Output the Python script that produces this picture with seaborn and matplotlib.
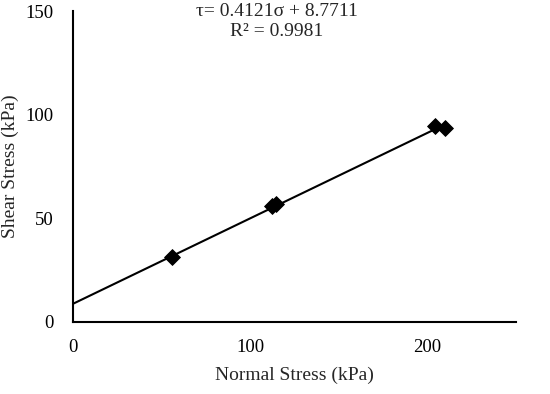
import numpy as np
import pandas as pd
import seaborn as sns
import matplotlib.pyplot as plt

normal_stress = [56, 112.5, 114.5, 204.5, 210]
shear_stress = [31.3, 55.8, 56.9, 94.3, 93.4]

# trendline as given in the chart
slope = 0.4121
intercept = 8.7711
r_squared = 0.9981

x_ticks = [0, 50, 100, 150, 200, 250]
x_tick_labels = ['0', '', '100', '', '200', '']
y_ticks = [0, 25, 50, 75, 100, 125, 150]
y_tick_labels = ['0', '', '50', '', '100', '', '150']

df = pd.DataFrame({'sigma': normal_stress, 'tau': shear_stress})
fit_x = np.array([0, max(normal_stress)])
fit = pd.DataFrame({'sigma': fit_x, 'tau': slope * fit_x + intercept})

sns.set_style('white')
plt.rcParams['font.family'] = ['Liberation Serif', 'DejaVu Serif']

fig = plt.figure(figsize=(5.5, 3.94), dpi=100)
ax = fig.add_axes([0.133, 0.183, 0.805, 0.789])

sns.lineplot(x='sigma', y='tau', data=fit, ax=ax, color='black', linewidth=1.5)
sns.scatterplot(x='sigma', y='tau', data=df, ax=ax, marker='D', s=65,
                color='black', edgecolor='black', zorder=3)

ax.set_xlim(0, 250)
ax.set_ylim(0, 150)
ax.set_xticks(x_ticks)
ax.set_xticklabels(x_tick_labels)
ax.set_yticks(y_ticks)
ax.set_yticklabels(y_tick_labels)
ax.tick_params(direction='in', length=4, width=1.5, labelsize=13.5, colors='black')
ax.tick_params(axis='x', pad=12)
ax.tick_params(axis='y', pad=14)

for side in ['top', 'right']:
    ax.spines[side].set_visible(False)
for side in ['left', 'bottom']:
    ax.spines[side].set_linewidth(1.5)
    ax.spines[side].set_color('black')

ax.set_xlabel('Normal Stress (kPa)', fontsize=14, labelpad=8)
ax.set_ylabel('Shear Stress (kPa)', fontsize=14, va='center')
ax.yaxis.set_label_coords(-0.142, 0.5)

ax.text(0.46, 1.0, '\u03c4= %.4f\u03c3 + %.4f' % (slope, intercept),
        transform=ax.transAxes, ha='center', va='center', fontsize=14)
ax.text(0.46, 0.935, 'R\u00b2 = %.4f' % r_squared,
        transform=ax.transAxes, ha='center', va='center', fontsize=14)

fig.savefig('out.png', dpi=100)
